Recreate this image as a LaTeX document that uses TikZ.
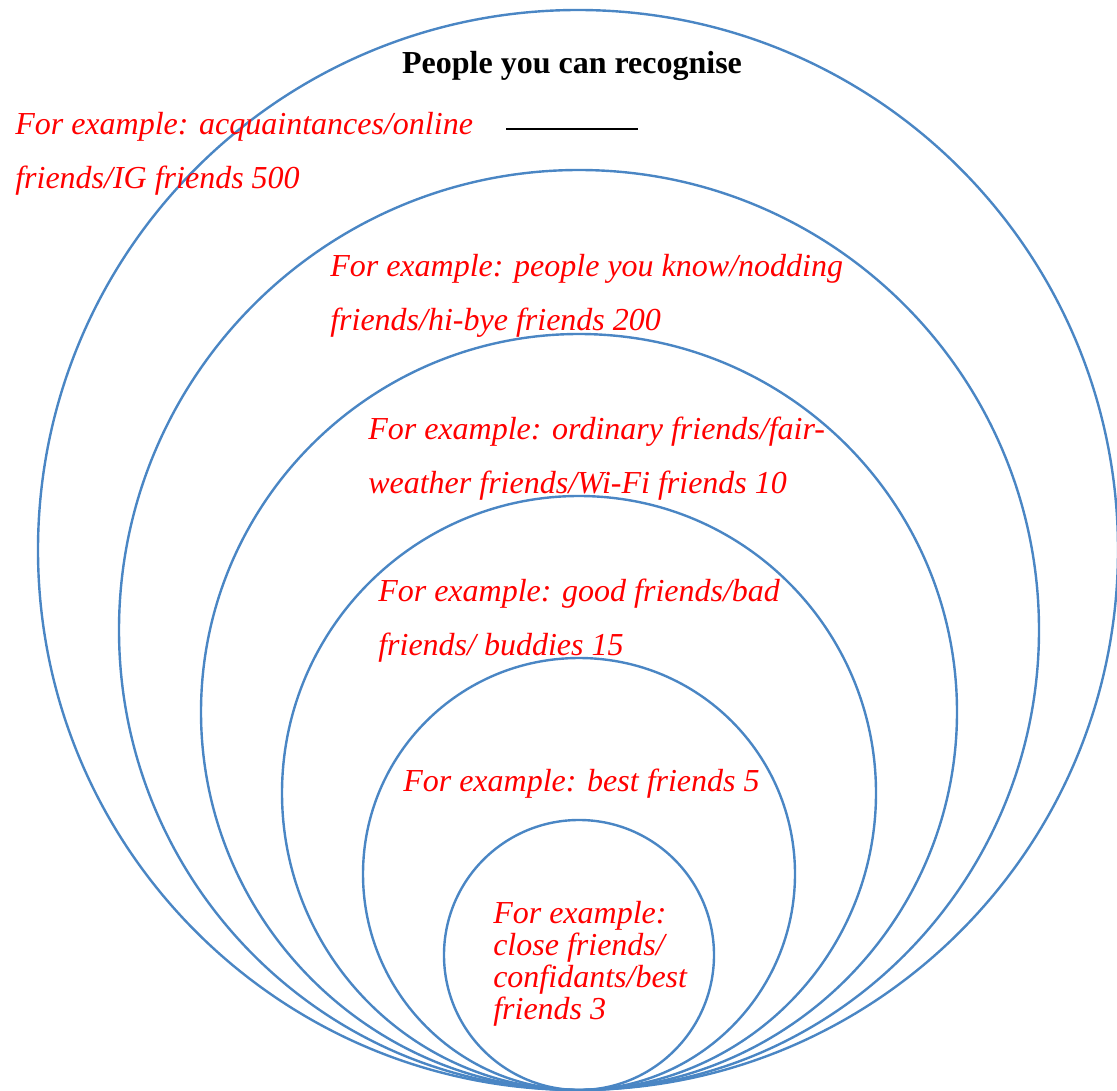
\documentclass[tikz,border=0pt]{standalone}
\usepackage{fontspec}
\setmainfont{Liberation Serif}
\definecolor{ringblue}{HTML}{4A86C4}
\begin{document}
\begin{tikzpicture}[x=0.75pt,y=-0.75pt,
  ring/.style={draw=ringblue, line width=1.8pt},
  lbl/.style={text=red, font=\fontsize{24}{40.5}\selectfont\itshape, inner sep=0pt, anchor=base west, align=left},
  lbltight/.style={lbl, font=\fontsize{24}{24}\selectfont\itshape}]
\useasboundingbox (0,0) rectangle (1117,1091);
% rings, all touching at the bottom
\draw[ring] (578,550) circle (405pt);
\draw[ring] (579,630) circle (345pt);
\draw[ring] (579,712) circle (283.5pt);
\draw[ring] (579,793) circle (222.75pt);
\draw[ring] (579,874) circle (162pt);
\draw[ring] (579,955) circle (101.25pt);
% title
\node[font=\bfseries\fontsize{24}{28}\selectfont, inner sep=0pt, anchor=base] (title) at (572,74) {People you can recognise};
\node[inner sep=0pt, anchor=west] (blank) at (506,129) {\rule{99pt}{1.6pt}};
% labels (anchor = baseline of the last line)
\node[lbl] (t1) at (15,189) {For example: acquaintances/online\\friends/IG friends 500};
\node[lbl] (t2) at (330,330) {For example: people you know/nodding\\friends/hi-bye friends 200};
\node[lbl] (t3) at (368,493) {For example: ordinary friends/fair-\\weather friends/Wi-Fi friends 10};
\node[lbl] (t4) at (378,655) {For example: good friends/bad\\friends/ buddies 15};
\node[lbl] (t5) at (403,791) {For example: best friends 5};
\node[lbltight] (t6) at (493,1019) {For example:\\close friends/\\confidants/best\\friends 3};
\end{tikzpicture}
\end{document}
